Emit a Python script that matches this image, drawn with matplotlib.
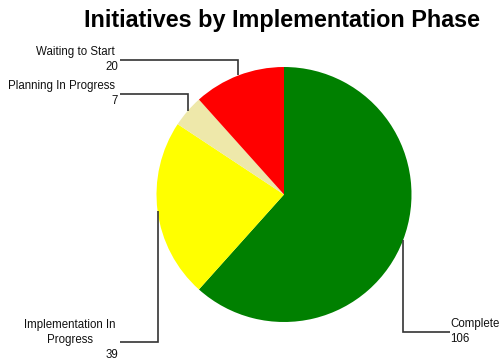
import matplotlib.pyplot as plt
import numpy as np

plt.rcParams['font.family'] = ['Liberation Sans', 'DejaVu Sans']

# data
phases = ['Complete', 'Implementation In\nProgress', 'Planning In Progress', 'Waiting to Start']
counts = [106, 39, 7, 20]
colors = ['#008000', '#FFFF00', '#EEE8AA', '#FF0000']

W, H = 499, 364
fig = plt.figure(figsize=(W / 100, H / 100), dpi=100)
ax = fig.add_axes([0, 0, 1, 1])

cx, cy, r = 284, H - 194.5, 127.5
wedges, _ = ax.pie(counts, colors=colors, startangle=90, counterclock=False,
                   center=(cx, cy), radius=r, wedgeprops=dict(linewidth=0))
ax.set_xlim(0, W)
ax.set_ylim(0, H)
ax.set_aspect('equal')
ax.axis('off')

# leader line: y level (from top) and x end, text side
layout = [
    (332, 450, 'right'),
    (342, 120, 'left'),
    (94, 120, 'left'),
    (60, 120, 'left'),
]

lc = '#333333'
fs = 8.3
tc = '#111111'
for w, name, val, (ly, lx, side) in zip(wedges, phases, counts, layout):
    mid = np.deg2rad((w.theta1 + w.theta2) / 2)
    px = cx + r * np.cos(mid)
    py = cy + r * np.sin(mid)
    yl = H - ly
    ax.plot([px, px, lx], [py, yl, yl], color=lc, lw=1.2, solid_capstyle='butt',
            solid_joinstyle='miter')
    if side == 'right':
        ax.text(lx, yl + 2, name, ha='left', va='bottom', fontsize=fs, color=tc)
        ax.text(lx, yl - 1, str(val), ha='left', va='top', fontsize=fs, color=tc)
    elif '\n' in name:
        ax.text(lx - 50, yl - 4, name, ha='center', va='bottom', fontsize=fs,
                color=tc, multialignment='center', linespacing=1.3)
        ax.text(lx - 2, yl - 7, str(val), ha='right', va='top', fontsize=fs, color=tc)
    else:
        ax.text(lx - 5, yl + 2, name, ha='right', va='bottom', fontsize=fs, color=tc)
        ax.text(lx - 2, yl - 1, str(val), ha='right', va='top', fontsize=fs, color=tc)

fig.text(281.5 / W, 1 - 20 / H, 'Initiatives by Implementation Phase', ha='center', va='center',
         fontsize=16.8, fontweight='bold', color='black')

fig.savefig('out.png', dpi=100)
